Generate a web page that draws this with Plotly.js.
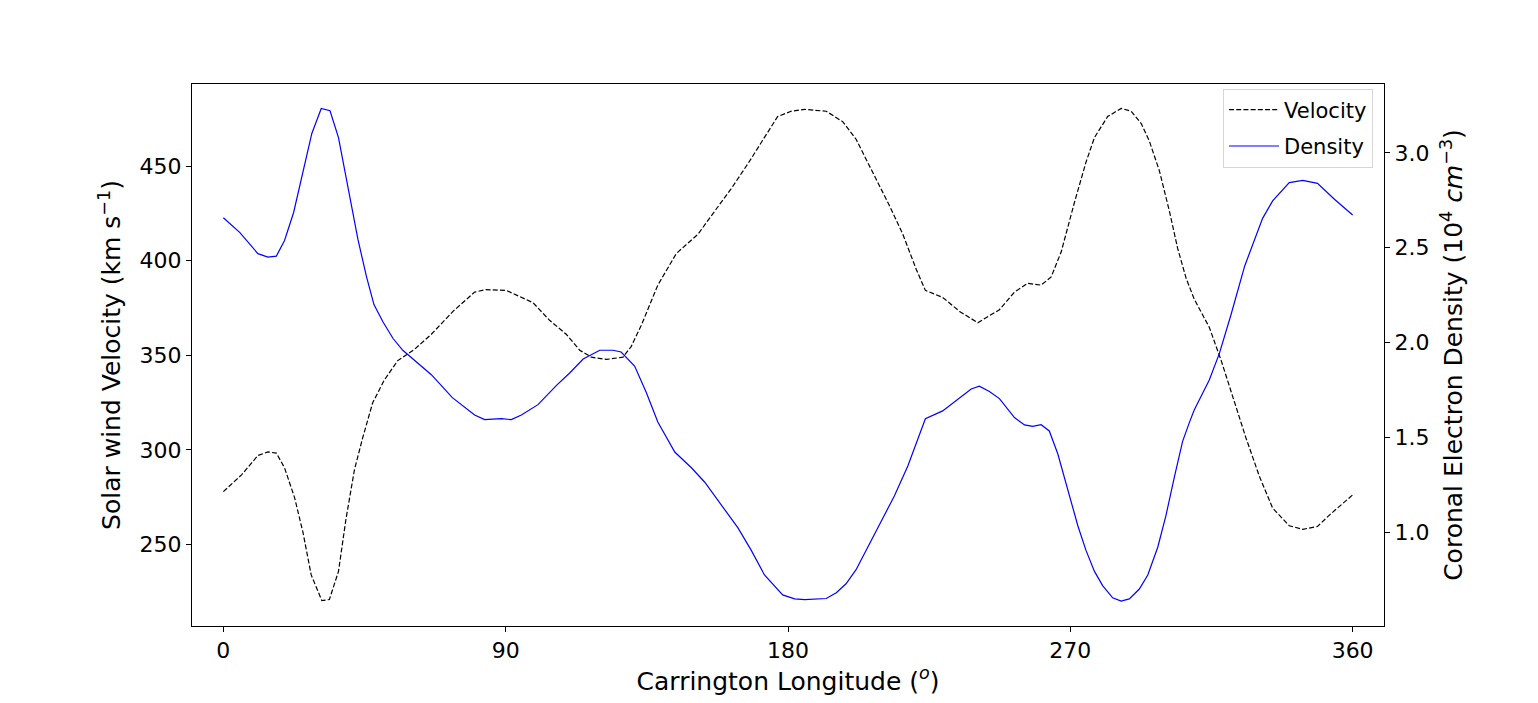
<!DOCTYPE html>
<html>
<head>
<meta charset="utf-8">
<script src="https://cdn.plot.ly/plotly-3.0.1.min.js"></script>
<style>
  html, body { margin: 0; padding: 0; background: #ffffff; }
  #chart { width: 1538px; height: 703px; }
</style>
</head>
<body>
<div id="chart"></div>
<script>
// Solar wind velocity (km/s) vs Carrington longitude (deg)
const velLon = [0, 5.8, 11, 14.2, 16.9, 19.5, 22.7, 25.4, 28, 31.4, 33.8, 36.7, 39.1, 41.8, 44.4, 47.6, 51.3, 55.6, 60.9,
  66.3, 73.2, 80.1, 83.7, 90.2, 98.7, 104, 109.3, 113.6, 117.3, 122.1, 127.4, 130, 133.2, 138.5, 144.4, 151.3, 156.6,
  161.9, 167.2, 172, 176.7, 181, 185.3, 192.2, 197.5, 201.7, 206.5, 212.4, 216.6, 220.9, 223.8, 229.3, 234.7, 240.5,
  247.4, 252.2, 256.4, 260.7, 263.9, 267.1, 271.3, 275, 277.7, 281.9, 286.2, 289.4, 292.6, 295.2, 298.4, 301.6, 304.2,
  306.9, 309.5, 314.3, 318.1, 321.8, 326, 330.3, 334.5, 339.8, 344.1, 348.8, 352.5, 360];
const velocity = [277.9, 286.8, 297.0, 298.9, 298.3, 290.5, 274.8, 256.2, 233.9, 220.3, 220.9, 235.8, 263.6, 289.6, 306.3, 324.9, 336.9, 347.2, 353.1,
  361.1, 373.2, 383.4, 384.7, 384.3, 377.8, 368.5, 361.1, 352.7, 349.0, 347.8, 349.0, 354.6, 365.7, 387.1, 403.8, 414.0, 426.1,
  438.1, 451.2, 464.2, 476.2, 479.0, 480.0, 479.0, 473.4, 464.2, 448.4, 428.9, 414.0, 395.4, 384.3, 380.6, 373.2, 367.2,
  374.1, 383.4, 388.0, 387.1, 391.4, 404.7, 430.7, 452.1, 465.1, 476.2, 480.5, 479.0, 472.5, 463.2, 447.5, 426.1, 406.6,
  390.8, 379.7, 364.8, 347.2, 327.7, 306.3, 285.9, 269.2, 259.9, 258.0, 259.5, 265.4, 276.2];

// Coronal electron density (10^4 cm^-3) vs Carrington longitude (deg)
const denLon = [0, 5.2, 11, 14.2, 16.9, 19.5, 22.4, 25.4, 28.2, 31.2, 34, 36.7, 39.7, 42.9, 45.6, 48, 50.9, 54.1, 57.2, 61,
  66.3, 73, 80.1, 83.3, 88.6, 91.8, 95, 100.3, 106.2, 110.4, 114.7, 120, 124.2, 126.8, 131.1, 134.8, 138.5, 143.9, 149.2,
  153.4, 158.7, 164, 168.3, 172.5, 178.3, 182.1, 185.3, 192.2, 195.4, 198.5, 201.7, 204.9, 209.2, 213.9, 218.2, 223.8,
  229.3, 234.7, 238.4, 241, 244.2, 247.4, 252.2, 255.4, 258, 260.7, 263.3, 266, 269.2, 272.4, 275, 277.7, 280.3, 283.5,
  286.2, 288.8, 292, 294.7, 297.9, 300.5, 303.2, 305.8, 308, 309.5, 314.3, 317.5, 321.2, 325.6, 331.3, 334.5, 339.8,
  344.1, 348.8, 354.2, 360];
const density = [2.658, 2.581, 2.469, 2.451, 2.456, 2.538, 2.686, 2.895, 3.103, 3.235, 3.223, 3.081, 2.830, 2.544, 2.349, 2.200, 2.108, 2.021, 1.959, 1.904,
  1.830, 1.709, 1.617, 1.593, 1.598, 1.593, 1.617, 1.672, 1.774, 1.839, 1.913, 1.959, 1.959, 1.950, 1.876, 1.737, 1.580, 1.422, 1.339,
  1.264, 1.144, 1.023, 0.903, 0.773, 0.668, 0.647, 0.643, 0.649, 0.680, 0.727, 0.801, 0.903, 1.042, 1.190, 1.348, 1.598,
  1.639, 1.709, 1.755, 1.769, 1.741, 1.704, 1.604, 1.565, 1.557, 1.566, 1.533, 1.413, 1.218, 1.033, 0.903, 0.792, 0.717, 0.653,
  0.635, 0.647, 0.699, 0.773, 0.921, 1.088, 1.292, 1.478, 1.580, 1.644, 1.802, 1.941, 2.145, 2.404, 2.655, 2.747, 2.844,
  2.855, 2.840, 2.756, 2.673];

const xTicks = [0, 90, 180, 270, 360];
const velTicks = [250, 300, 350, 400, 450];
const denTicks = [1.0, 1.5, 2.0, 2.5, 3.0];

const FONT = 'DejaVu Sans, sans-serif';

const traces = [
  {
    x: velLon, y: velocity, name: 'Velocity', type: 'scatter', mode: 'lines', legendgroup: 'v',
    line: { color: '#000000', width: 1.2, dash: '5px,2.2px' }, yaxis: 'y'
  },
  {
    x: denLon, y: density, name: 'Density', type: 'scatter', mode: 'lines', legendgroup: 'd',
    line: { color: '#0000ff', width: 1.2 }, yaxis: 'y2'
  }
];

const layout = {
  width: 1538, height: 703,
  paper_bgcolor: '#ffffff', plot_bgcolor: '#ffffff',
  margin: { l: 192, r: 154, t: 84, b: 77, pad: 0 },
  font: { family: FONT, size: 22, color: '#000000' },
  showlegend: true,
  legend: {
    x: 0.9908, xanchor: 'right', y: 0.9916, yanchor: 'top',
    bgcolor: 'rgba(255,255,255,0.8)', bordercolor: '#d6d6d6', borderwidth: 1,
    font: { family: FONT, size: 21, color: '#000000' },
    traceorder: 'grouped', tracegroupgap: 6, itemwidth: 50
  },
  xaxis: {
    range: [-10, 370], tickvals: xTicks, ticktext: xTicks.map(String),
    showgrid: false, zeroline: false,
    showline: true, mirror: true, linecolor: '#000000', linewidth: 1.1,
    ticks: 'outside', ticklen: 5, tickwidth: 1, tickcolor: '#000000',
    tickfont: { family: FONT, size: 22, color: '#000000' },
    title: { text: 'Carrington Longitude (<i><sup>o</sup></i>)', font: { family: FONT, size: 25, color: '#000000' }, standoff: 2 }
  },
  yaxis: {
    range: [206.9, 493.4], tickvals: velTicks, ticktext: velTicks.map(String),
    showgrid: false, zeroline: false,
    showline: true, mirror: true, linecolor: '#000000', linewidth: 1.1,
    ticks: 'outside', ticklen: 5, tickwidth: 1, tickcolor: '#000000',
    tickfont: { family: FONT, size: 22, color: '#000000' },
    title: { text: 'Solar wind Velocity (km s<sup>−1</sup>)', font: { family: FONT, size: 25, color: '#000000' }, standoff: 11 }
  },
  yaxis2: {
    range: [0.504, 3.364], tickvals: denTicks, ticktext: denTicks.map(v => v.toFixed(1)),
    overlaying: 'y', side: 'right',
    showgrid: false, zeroline: false,
    showline: true, linecolor: '#000000', linewidth: 1.1,
    ticks: 'outside', ticklen: 5, tickwidth: 1, tickcolor: '#000000',
    tickfont: { family: FONT, size: 22, color: '#000000' },
    title: { text: 'Coronal Electron Density (10<sup>4</sup> <i>cm</i><sup>−3</sup>)', font: { family: FONT, size: 25, color: '#000000' }, standoff: 16 }
  }
};

Plotly.newPlot('chart', traces, layout, { displayModeBar: false, responsive: false });
</script>
</body>
</html>
